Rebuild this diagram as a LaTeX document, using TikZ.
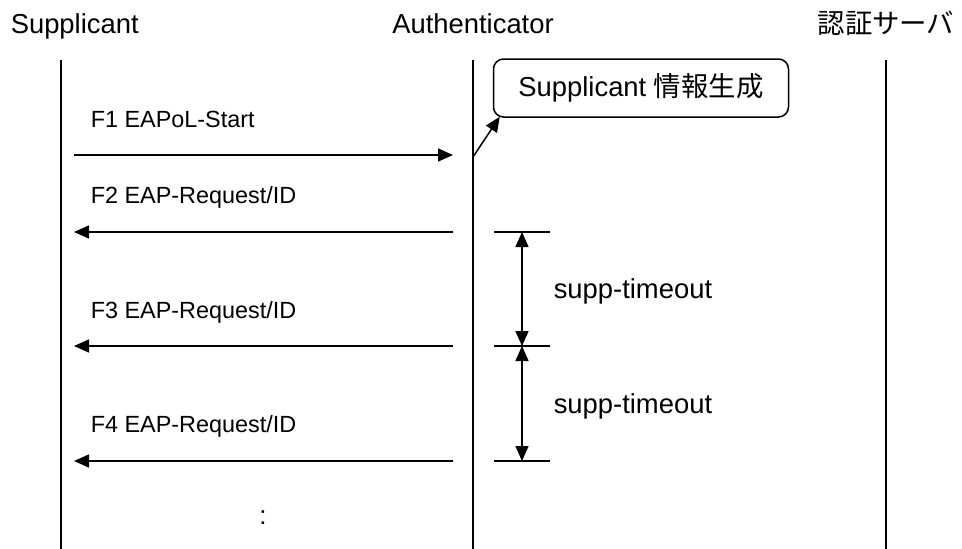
\documentclass[tikz,border=0pt]{standalone}
\usepackage{fontspec}
\setmainfont{Liberation Sans}
\newfontfamily\cjk{Noto Sans CJK JP}
\usetikzlibrary{arrows.meta}
\begin{document}
\begin{tikzpicture}[x=1pt, y=-1pt, line width=1.5pt,
  >={Triangle[length=15pt,width=13pt]},
  titel/.style={anchor=base, inner sep=0pt, font=\fontsize{27.4}{32}\selectfont},
  msg/.style={anchor=base west, inner sep=0pt, font=\fontsize{23.4}{28}\selectfont},
  zeit/.style={anchor=base west, inner sep=0pt, font=\fontsize{27.4}{32}\selectfont}]
\useasboundingbox (0,0) rectangle (962,549);
% Lebenslinien: x-Positionen
\def\xs{61}   % Supplicant
\def\xa{473}  % Authenticator
\def\xv{886}  % Server
\coordinate (S0) at (\xs, 60);  \coordinate (S1) at (\xs, 549);
\coordinate (A0) at (\xa, 60);  \coordinate (A1) at (\xa, 549);
\coordinate (V0) at (\xv, 60);  \coordinate (V1) at (\xv, 549);
\draw (S0) -- (S1);
\draw (A0) -- (A1);
\draw (V0) -- (V1);
% Titel
\node[titel, anchor=base west] (tS) at (10, 33) {Supplicant};
\node[titel] (tA) at (\xa, 33) {Authenticator};
\node[titel] (tV) at (\xv, 33) {\cjk 認証サーバ};
% Kasten Supplicant-Info
\node[draw, rounded corners=10pt, minimum width=295pt, minimum height=58pt,
      inner sep=0pt, font=\fontsize{27.4}{32}\selectfont] (info) at (641, 88)
      {Supplicant {\cjk 情報生成}};
\coordinate (F1a) at (74, 155);  \coordinate (F1b) at (453, 155);
\draw[->] (F1a) -- (F1b);
\coordinate (F1c) at (\xa, 157);
\draw[->] (F1c) -- ([xshift=7pt, yshift=1pt]info.south west);
% Nachrichten F2 bis F4
\foreach \n/\y in {2/232, 3/346, 4/461} {
  \coordinate (F\n a) at (453, \y);
  \coordinate (F\n b) at (74, \y);
  \draw[->] (F\n a) -- (F\n b);
  \coordinate (T\n a) at (494, \y);
  \coordinate (T\n b) at (550, \y);
  \draw (T\n a) -- (T\n b);
}
\node[msg] (m1) at (90, 127) {F1 EAPoL-Start};
\node[msg] (m2) at (90, 203) {F2 EAP-Request/ID};
\node[msg] (m3) at (90, 318) {F3 EAP-Request/ID};
\node[msg] (m4) at (90, 432) {F4 EAP-Request/ID};
% Zeitabstaende
\coordinate (Z2) at (522, 232);
\coordinate (Z3) at (522, 346);
\coordinate (Z4) at (522, 461);
\draw[<->] (Z2) -- (Z3);
\draw[<->] (Z3) -- (Z4);
\node[zeit] (z1) at (553, 298) {supp-timeout};
\node[zeit] (z2) at (553, 413) {supp-timeout};
% Fortsetzung
\node[inner sep=0pt, font=\fontsize{26}{30}\selectfont] (dots) at (263, 518) {:};
\end{tikzpicture}
\end{document}
